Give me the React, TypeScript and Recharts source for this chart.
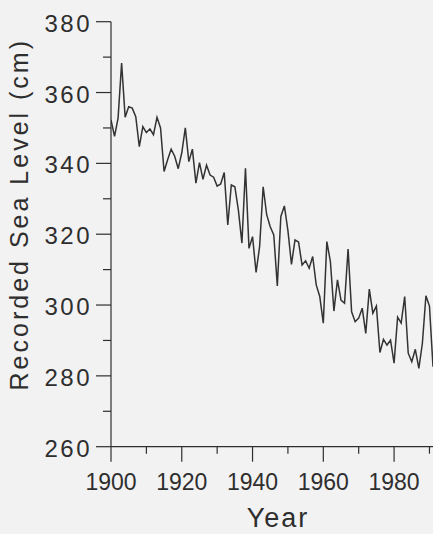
import React from 'react';
import { LineChart, Line, XAxis, YAxis } from 'recharts';

const years: number[] = [
  1900, 1901, 1902, 1903, 1904, 1905, 1906, 1907, 1908, 1909,
  1910, 1911, 1912, 1913, 1914, 1915, 1916, 1917, 1918, 1919,
  1920, 1921, 1922, 1923, 1924, 1925, 1926, 1927, 1928, 1929,
  1930, 1931, 1932, 1933, 1934, 1935, 1936, 1937, 1938, 1939,
  1940, 1941, 1942, 1943, 1944, 1945, 1946, 1947, 1948, 1949,
  1950, 1951, 1952, 1953, 1954, 1955, 1956, 1957, 1958, 1959,
  1960, 1961, 1962, 1963, 1964, 1965, 1966, 1967, 1968, 1969,
  1970, 1971, 1972, 1973, 1974, 1975, 1976, 1977, 1978, 1979,
  1980, 1981, 1982, 1983, 1984, 1985, 1986, 1987, 1988, 1989,
  1990, 1991,
];

const seaLevel: number[] = [
  352.3, 347.6, 352.8, 368.3, 353.0, 356.0, 355.6, 353.2, 344.7, 350.4,
  348.7, 349.7, 348.1, 353.0, 350.0, 337.7, 341.0, 344.0, 342.0, 338.5,
  343.0, 350.0, 340.5, 344.0, 334.4, 340.2, 335.5, 339.5, 336.7, 336.1,
  333.6, 334.2, 337.4, 322.6, 333.9, 333.4, 326.8, 317.5, 338.6, 316.0,
  319.3, 309.2, 316.5, 333.4, 325.5, 322.1, 319.8, 305.4, 325.0, 328.0,
  321.0, 311.5, 318.4, 317.8, 311.3, 312.5, 310.4, 313.7, 305.7, 302.4,
  294.9, 317.9, 312.3, 298.3, 307.1, 301.4, 300.5, 315.8, 298.1, 295.3,
  296.3, 299.1, 292.0, 304.5, 297.7, 299.7, 286.6, 290.3, 288.7, 290.1,
  283.6, 296.6, 294.9, 302.4, 286.4, 284.0, 287.5, 282.1, 289.2, 302.6,
  299.7, 282.6,
];

const xTicks: number[] = [1900, 1910, 1920, 1930, 1940, 1950, 1960, 1970, 1980, 1990];
const xLabeled: number[] = [1900, 1920, 1940, 1960, 1980];
const yTicks: number[] = [260, 270, 280, 290, 300, 310, 320, 330, 340, 350, 360, 370, 380];
const yLabeled: number[] = [260, 280, 300, 320, 340, 360, 380];

const xTitle = 'Year';
const yTitle = 'Recorded Sea Level (cm)';

const data = years.map((year, i) => ({ year, level: seaLevel[i] }));

const INK = '#2e2e2e';
const FONT = '"Liberation Sans", Arial, Helvetica, sans-serif';

function XTick(props: any) {
  const { x, y, payload } = props;
  const major = xLabeled.includes(payload.value);
  return (
    <g>
      <line x1={x} x2={x} y1={y} y2={y + (major ? 15 : 7)} stroke={INK} strokeWidth={1.2} />
      {major && (
        <text x={x} y={y + 43} textAnchor="middle" fontSize={23} fill={INK} fontFamily={FONT}>
          {payload.value}
        </text>
      )}
    </g>
  );
}

function YTick(props: any) {
  const { x, y, payload } = props;
  const major = yLabeled.includes(payload.value);
  return (
    <g>
      <line x1={x} x2={x - (major ? 15 : 8)} y1={y} y2={y} stroke={INK} strokeWidth={1.2} />
      {major && (
        <text
          x={x - 19}
          y={y + 10}
          textAnchor="end"
          fontSize={24}
          letterSpacing={2.5}
          fill={INK}
          fontFamily={FONT}
        >
          {payload.value}
        </text>
      )}
    </g>
  );
}

function XTitle(props: any) {
  const { viewBox } = props;
  const cx = viewBox.x + viewBox.width / 2 + 6;
  return (
    <text x={cx} y={viewBox.y + 80} textAnchor="middle" fontSize={27} letterSpacing={2} fill={INK} fontFamily={FONT}>
      {xTitle}
    </text>
  );
}

function YTitle(props: any) {
  const { viewBox } = props;
  const cx = viewBox.x + 28;
  const cy = viewBox.y + viewBox.height / 2 - 20;
  return (
    <text
      x={cx}
      y={cy}
      transform={`rotate(-90 ${cx} ${cy})`}
      textAnchor="middle"
      fontSize={25}
      letterSpacing={3}
      fill={INK}
      fontFamily={FONT}
    >
      {yTitle}
    </text>
  );
}

export default function App() {
  return (
    <div style={{ position: 'fixed', left: 0, top: 0, width: 433, height: 534, background: '#f2f2f2', overflow: 'hidden' }}>
      <LineChart width={433} height={534} data={data} margin={{ top: 21.7, right: 0, bottom: 0, left: 0 }}>
        <XAxis
          dataKey="year"
          type="number"
          domain={[1900, 1991]}
          allowDataOverflow
          ticks={xTicks}
          interval={0}
          height={87.3}
          tickSize={0}
          tickMargin={0}
          tickLine={false}
          tick={<XTick />}
          axisLine={{ stroke: INK, strokeWidth: 1.2 }}
          label={<XTitle />}
        />
        <YAxis
          type="number"
          domain={[260, 380]}
          ticks={yTicks}
          interval={0}
          width={111}
          tickSize={0}
          tickMargin={0}
          tickLine={false}
          tick={<YTick />}
          axisLine={{ stroke: INK, strokeWidth: 1.2 }}
          label={<YTitle />}
        />
        <Line
          type="linear"
          dataKey="level"
          stroke="#333333"
          strokeWidth={1.5}
          dot={false}
          isAnimationActive={false}
        />
      </LineChart>
    </div>
  );
}
